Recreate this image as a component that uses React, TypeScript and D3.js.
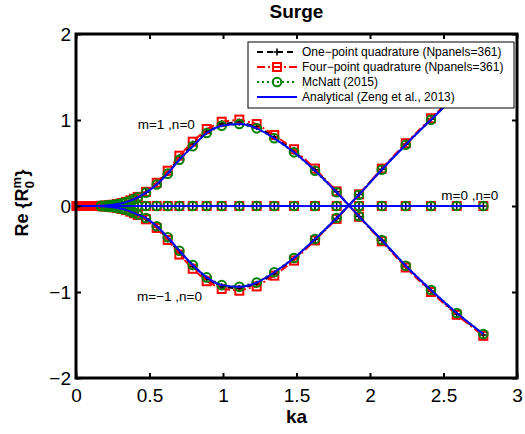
import React, { useEffect, useRef } from 'react';
import * as d3 from 'd3';

const width = 525;
const height = 434;
const margin = { top: 34, right: 8, bottom: 56, left: 76 };
const font = '"Liberation Sans", Arial, Helvetica, sans-serif';

const red = '#ff0000';
const green = '#008000';
const blue = '#0000ff';

// ka grid shared by all computed series
const kaGrid = [0.17, 0.2, 0.225, 0.25, 0.28, 0.31, 0.34, 0.37, 0.395, 0.42, 0.476, 0.549, 0.624, 0.703, 0.794, 0.889, 0.991, 1.111, 1.229, 1.349, 1.483, 1.626, 1.773, 1.925, 2.08, 2.243, 2.415, 2.59, 2.771];
// extra low-frequency points of the panel-method runs
const kaLow = [0.005, 0.02, 0.035, 0.05, 0.065, 0.08, 0.095, 0.11, 0.125, 0.14, 0.155];
const lowVals = [0, 0, 0, 0, 0, 0, 0, 0, 0, 0, 0];
// start of the analytical curve
const kaAnaStart = [0, 0.08, 0.13];
const anaStartVals = [0, 0, 0.001];

// McNatt (2015) / analytical values at kaGrid
const mcnM1 = [0.003, 0.006, 0.009, 0.014, 0.022, 0.032, 0.045, 0.062, 0.08, 0.1, 0.155, 0.25, 0.376, 0.538, 0.694, 0.849, 0.934, 0.953, 0.903, 0.787, 0.624, 0.41, 0.16, -0.12, -0.395, -0.694, -0.977, -1.244, -1.488];
const mcnM0 = [0, 0, 0, 0, 0, 0, 0, 0, 0, 0, 0, 0, 0, 0, 0, 0, 0, 0, 0, 0, 0, 0, 0, 0, 0, 0, 0, 0, 0];
const mcnMm1 = [-0.003, -0.006, -0.009, -0.014, -0.022, -0.032, -0.045, -0.062, -0.08, -0.1, -0.14, -0.235, -0.364, -0.52, -0.686, -0.83, -0.92, -0.94, -0.89, -0.77, -0.605, -0.385, -0.14, 0.131, 0.422, 0.713, 1.003, 1.29, 1.57];

// four-point quadrature at kaGrid
const fourM1 = [0.003, 0.006, 0.01, 0.015, 0.024, 0.034, 0.048, 0.066, 0.085, 0.106, 0.165, 0.27, 0.41, 0.585, 0.748, 0.895, 0.98, 1.005, 0.953, 0.826, 0.66, 0.435, 0.17, -0.125, -0.41, -0.715, -1.0, -1.265, -1.51];
const fourM0 = [0, 0, 0, 0, 0, 0, 0, 0, 0, 0, 0, 0, 0, 0, 0, 0, 0, 0, 0, 0, 0, 0, 0, 0, 0, 0, 0, 0, 0];
const fourMm1 = [-0.003, -0.006, -0.01, -0.015, -0.024, -0.034, -0.048, -0.066, -0.085, -0.106, -0.155, -0.255, -0.395, -0.565, -0.73, -0.875, -0.965, -0.985, -0.935, -0.81, -0.635, -0.4, -0.15, 0.135, 0.435, 0.73, 1.02, 1.31, 1.59];

// one-point quadrature at kaGrid
const oneM1 = [0.003, 0.006, 0.009, 0.014, 0.023, 0.033, 0.046, 0.064, 0.082, 0.103, 0.16, 0.26, 0.39, 0.56, 0.72, 0.87, 0.955, 0.975, 0.925, 0.805, 0.64, 0.42, 0.165, -0.122, -0.4, -0.705, -0.99, -1.255, -1.5];
const oneM0 = [0, 0, 0, 0, 0, 0, 0, 0, 0, 0, 0, 0, 0, 0, 0, 0, 0, 0, 0, 0, 0, 0, 0, 0, 0, 0, 0, 0, 0];
const oneMm1 = [-0.003, -0.006, -0.009, -0.014, -0.023, -0.033, -0.046, -0.064, -0.082, -0.103, -0.148, -0.245, -0.38, -0.54, -0.705, -0.85, -0.94, -0.96, -0.91, -0.79, -0.615, -0.39, -0.145, 0.133, 0.428, 0.72, 1.01, 1.3, 1.58];

const xTicks = [0, 0.5, 1, 1.5, 2, 2.5, 3];
const yTicks = [-2, -1, 0, 1, 2];

const labels = [
  { text: 'm=1 ,n=0', ka: 0.42, v: 0.95 },
  { text: 'm=\u22121 ,n=0', ka: 0.415, v: -1.05 },
  { text: 'm=0 ,n=0', ka: 2.485, v: 0.12 },
];

type Pt = [number, number];
const zip = (ka: number[], v: number[]): Pt[] => ka.map((k, i) => [k, v[i]]);

const kaNum = [...kaLow, ...kaGrid];
const kaAna = [...kaAnaStart, ...kaGrid];

const series = [
  { name: 'One\u2212point quadrature (Npanels=361)', color: '#000', dash: '6,4', marker: 'plus', curves: [oneM1, oneM0, oneMm1].map(v => zip(kaNum, [...lowVals, ...v])) },
  { name: 'Four\u2212point quadrature (Npanels=361)', color: red, dash: '8,3,2,3', marker: 'square', curves: [fourM1, fourM0, fourMm1].map(v => zip(kaNum, [...lowVals, ...v])) },
  { name: 'McNatt (2015)', color: green, dash: '2,3', marker: 'circle', curves: [mcnM1, mcnM0, mcnMm1].map(v => zip(kaGrid, v)) },
  { name: 'Analytical (Zeng et al., 2013)', color: blue, dash: null, marker: null, curves: [mcnM1, mcnM0, mcnMm1].map(v => zip(kaAna, [...anaStartVals, ...v])) },
];

const x = d3.scaleLinear().domain([0, 3]).range([margin.left, width - margin.right]);
const y = d3.scaleLinear().domain([-2, 2]).range([height - margin.bottom, margin.top]);

function Marker({ type, cx, cy, color }: { type: string | null; cx: number; cy: number; color: string }) {
  if (type === 'plus') {
    return <path d={`M${cx - 3.5},${cy}H${cx + 3.5}M${cx},${cy - 3.5}V${cy + 3.5}`} stroke={color} strokeWidth={1.6} fill="none" />;
  }
  if (type === 'square') {
    return <rect x={cx - 4} y={cy - 4} width={8} height={8} stroke={color} strokeWidth={2} fill="none" />;
  }
  if (type === 'circle') {
    return <circle cx={cx} cy={cy} r={4.3} stroke={color} strokeWidth={2} fill="none" />;
  }
  return null;
}

export default function App() {
  const xAxisRef = useRef<SVGGElement>(null);
  const yAxisRef = useRef<SVGGElement>(null);
  const topAxisRef = useRef<SVGGElement>(null);
  const rightAxisRef = useRef<SVGGElement>(null);

  useEffect(() => {
    const fmt = d3.format('~g');
    const xAxis = d3.axisBottom(x).tickValues(xTicks).tickSizeInner(-5).tickSizeOuter(0).tickPadding(11).tickFormat(d => fmt(d as number));
    const yAxis = d3.axisLeft(y).tickValues(yTicks).tickSizeInner(-5).tickSizeOuter(0).tickPadding(5).tickFormat(d => fmt(d as number));
    const topAxis = d3.axisTop(x).tickValues(xTicks).tickSizeInner(-5).tickSizeOuter(0).tickFormat(() => '');
    const rightAxis = d3.axisRight(y).tickValues(yTicks).tickSizeInner(-5).tickSizeOuter(0).tickFormat(() => '');
    [[xAxisRef, xAxis], [yAxisRef, yAxis], [topAxisRef, topAxis], [rightAxisRef, rightAxis]].forEach(([ref, ax]: any) => {
      const g = d3.select(ref.current).call(ax);
      g.select('.domain').remove();
      g.selectAll('line').attr('stroke', '#000').attr('stroke-width', 2);
      g.selectAll('text').attr('fill', '#000').style('font-size', '19px').style('font-family', font);
    });
  }, []);

  const line = d3.line<Pt>().x(d => x(d[0])).y(d => y(d[1]));
  const smooth = d3.line<Pt>().x(d => x(d[0])).y(d => y(d[1])).curve(d3.curveMonotoneX);

  const legendX = 248;
  const legendY = 42;
  const rowH = 15;

  return (
    <svg width={width} height={height} style={{ position: 'absolute', left: 0, top: 0, background: '#fff' }} fontFamily={font}>
      <rect x={0} y={0} width={width} height={height} fill="#fff" />
      {series.map((s, si) => (
        <g key={si}>
          {s.curves.map((c, ci) => (
            <path key={ci} d={(s.marker ? line : smooth)(c) || ''} fill="none" stroke={s.color} strokeWidth={2} strokeDasharray={s.dash || undefined} />
          ))}
          {s.marker && s.curves.map((c, ci) =>
            c.map((d, i) => <Marker key={`${ci}-${i}`} type={s.marker} cx={x(d[0])} cy={y(d[1])} color={s.color} />)
          )}
        </g>
      ))}

      {labels.map((l, i) => (
        <text key={i} x={x(l.ka)} y={y(l.v)} fontSize={13.5} dy="0.35em" fill="#000">{l.text}</text>
      ))}

      <g ref={xAxisRef} transform={`translate(0, ${height - margin.bottom})`} />
      <g ref={yAxisRef} transform={`translate(${margin.left}, 0)`} />
      <g ref={topAxisRef} transform={`translate(0, ${margin.top})`} />
      <g ref={rightAxisRef} transform={`translate(${width - margin.right}, 0)`} />
      <rect x={margin.left} y={margin.top} width={width - margin.left - margin.right} height={height - margin.top - margin.bottom} fill="none" stroke="#000" strokeWidth={3} />

      <g>
        <rect x={legendX} y={legendY} width={266} height={66} fill="#fff" stroke="#000" strokeWidth={1} />
        {series.map((s, i) => {
          const cy = legendY + 10 + i * rowH;
          return (
            <g key={i}>
              <line x1={legendX + 9} x2={legendX + 49} y1={cy} y2={cy} stroke={s.color} strokeWidth={2} strokeDasharray={s.dash || undefined} />
              <Marker type={s.marker} cx={legendX + 29} cy={cy} color={s.color} />
              <text x={legendX + 54} y={cy} dy="0.35em" fontSize={12} fill="#000">{s.name}</text>
            </g>
          );
        })}
      </g>

      <text x={(margin.left + width - margin.right) / 2} y={18} textAnchor="middle" fontSize={19} fontWeight="bold">Surge</text>
      <text x={(margin.left + width - margin.right) / 2} y={423} textAnchor="middle" fontSize={19} fontWeight="bold">ka</text>
      <text transform="translate(28, 203) rotate(-90)" textAnchor="middle" fontSize={18} fontWeight="bold">
        Re {'{'}R
        <tspan fontSize={13} dy={-7}>m</tspan>
        <tspan fontSize={13} dx={-11.5} dy={13}>0</tspan>
        <tspan fontSize={18} dx={4.5} dy={-6}>{'}'}</tspan>
      </text>
    </svg>
  );
}
